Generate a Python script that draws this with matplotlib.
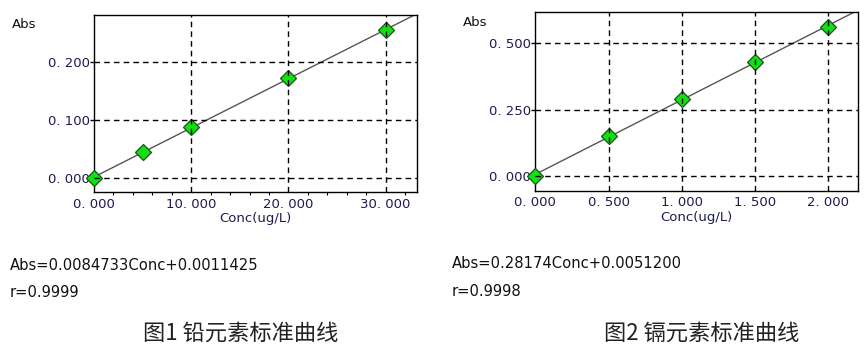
import matplotlib
matplotlib.use('Agg')
import matplotlib.pyplot as plt
import numpy as np

# ── Data ──────────────────────────────────────────────────────────────────────
pb_conc  = [0.0, 5.0, 10.0, 20.0, 30.0]
pb_abs   = [0.000, 0.044, 0.087, 0.172, 0.255]
pb_slope, pb_icpt = 0.0084733, 0.0011425
pb_r     = "0.9999"

cd_conc  = [0.0, 0.5, 1.0, 1.5, 2.0]
cd_abs   = [0.000, 0.149, 0.289, 0.428, 0.563]
cd_slope, cd_icpt = 0.28174, 0.0051200
cd_r     = "0.9998"

pb_xticks = [0, 10, 20, 30]
pb_xlabels = ["0. 000", "10. 000", "20. 000", "30. 000"]
pb_yticks = [0.0, 0.1, 0.2]
pb_ylabels = ["0. 000", "0. 100", "0. 200"]

cd_xticks = [0, 0.5, 1.0, 1.5, 2.0]
cd_xlabels = ["0. 000", "0. 500", "1. 000", "1. 500", "2. 000"]
cd_yticks = [0.0, 0.25, 0.5]
cd_ylabels = ["0. 000", "0. 250", "0. 500"]

TICK_COLOR = '#1c1c50'
TEXT_COLOR = '#111111'
plt.rcParams['font.family'] = ['DejaVu Sans', 'Noto Sans CJK SC']

fig = plt.figure(figsize=(8.66, 3.62), dpi=100)
fig.patch.set_facecolor('white')


def draw(ax, conc, absv, slope, icpt, xlim, ylim, xt, xl, yt, yl, minor=None):
    ax.set_xlim(*xlim)
    ax.set_ylim(*ylim)
    xs = np.array(xlim)
    ax.plot(xs, slope * xs + icpt, color='#555555', linewidth=1.0, zorder=2)
    ax.plot(conc, absv, linestyle='none', marker='D', markersize=8.5,
            markerfacecolor='#11e011', markeredgecolor='#1f4f1f',
            markeredgewidth=0.9, zorder=3, clip_on=False)
    for v in xt[1:]:
        ax.axvline(v, color='black', linewidth=1.0, linestyle=(0, (4, 3)), zorder=4)
    for v in yt:
        ax.axhline(v, color='black', linewidth=1.0, linestyle=(0, (4, 3)), zorder=4)
    ax.set_xticks(xt)
    ax.set_xticklabels(xl)
    ax.set_yticks(yt)
    ax.set_yticklabels(yl)
    if minor is not None:
        ax.set_xticks(minor, minor=True)
    ax.tick_params(axis='both', which='major', direction='out', length=3, width=1,
                   colors='black', labelcolor=TICK_COLOR, labelsize=9.5)
    ax.tick_params(axis='x', which='major', length=0, pad=4)
    ax.tick_params(axis='y', which='major', pad=0)
    ax.tick_params(axis='x', which='minor', direction='out', length=2, width=0.8)
    for s in ax.spines.values():
        s.set_linewidth(1.0)
        s.set_color('black')
    ax.set_xlabel("Conc(ug/L)", fontsize=9.5, color=TICK_COLOR, labelpad=1)


ax1 = fig.add_axes([0.1085, 0.4696, 0.3727, 0.489])
draw(ax1, pb_conc, pb_abs, pb_slope, pb_icpt, (0, 33.2), (-0.0247, 0.2805),
     pb_xticks, pb_xlabels, pb_yticks, pb_ylabels,
     minor=[v for v in np.arange(2, 33, 2) if v % 10 != 0])

ax2 = fig.add_axes([0.6181, 0.4732, 0.3723, 0.4945])
draw(ax2, cd_conc, cd_abs, cd_slope, cd_icpt, (0, 2.2), (-0.0566, 0.62),
     cd_xticks, cd_xlabels, cd_yticks, cd_ylabels)

fig.text(12 / 866, 1 - 24 / 362, "Abs", fontsize=9.5, va='center', ha='left', color=TEXT_COLOR)
fig.text(463 / 866, 1 - 22 / 362, "Abs", fontsize=9.5, va='center', ha='left', color=TEXT_COLOR)

fig.text(10 / 866, 1 - 265 / 362, f"Abs={pb_slope:.7f}Conc+{pb_icpt:.7f}",
         fontsize=10.6, va='center', ha='left', color=TEXT_COLOR)
fig.text(10 / 866, 1 - 292.5 / 362, f"r={pb_r}", fontsize=10.6, va='center', ha='left', color=TEXT_COLOR)
fig.text(452 / 866, 1 - 263.5 / 362, f"Abs={cd_slope:.5f}Conc+{cd_icpt:.7f}",
         fontsize=10.6, va='center', ha='left', color=TEXT_COLOR)
fig.text(452 / 866, 1 - 291.5 / 362, f"r={cd_r}", fontsize=10.6, va='center', ha='left', color=TEXT_COLOR)

fig.text(241 / 866, 1 - 333 / 362, "图1 铅元素标准曲线", fontsize=16, va='center', ha='center',
         color='#222222', family=['Noto Sans CJK SC', 'DejaVu Sans'])
fig.text(702 / 866, 1 - 333 / 362, "图2 镉元素标准曲线", fontsize=16, va='center', ha='center',
         color='#222222', family=['Noto Sans CJK SC', 'DejaVu Sans'])

plt.savefig('out.png', dpi=100, facecolor='white')
plt.close()
